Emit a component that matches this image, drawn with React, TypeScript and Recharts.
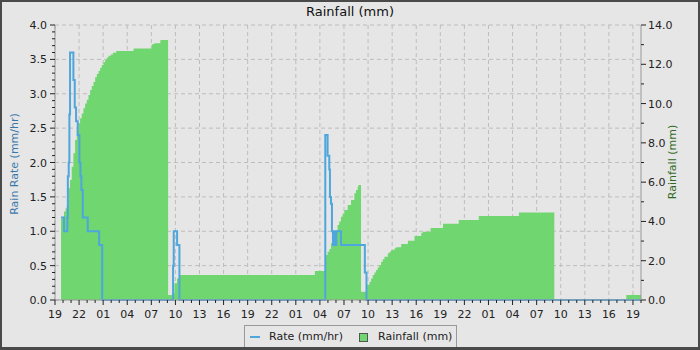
import { ComposedChart, Area, Line, XAxis, YAxis, CartesianGrid } from "recharts"

// hours counted from 19:00 on the first day
const rainHours = [
  0.75, 0.92, 1.125, 1.33, 1.46, 1.67, 1.875, 2.08, 2.29, 2.5, 2.71, 2.92, 3.125, 3.33, 3.54, 3.75, 3.96,
  4.17, 4.375, 4.58, 4.79, 5.0, 5.21, 5.42, 5.625, 5.83, 6.04, 6.25, 6.46, 6.67, 6.96, 7.21, 7.625, 9.79,
  12.04, 12.375, 13.125, 14.09, 14.58, 14.875, 15.2, 15.5, 32.375, 33.7, 33.96, 34.17, 34.375, 34.58,
  34.79, 35.0, 35.2, 35.4, 35.625, 35.83, 36.04, 36.46, 36.875, 37.29, 37.5, 37.71, 37.79, 38.125, 38.83,
  39.17, 39.375, 39.58, 39.79, 40.0, 40.2, 40.4, 40.625, 40.83, 41.04, 41.46, 41.67, 41.875, 42.29, 42.5,
  43.125, 43.96, 44.79, 45.625, 45.83, 46.79, 48.33, 50.29, 52.79, 57.79, 62.2, 71.17, 73,
]
const rainTotals = [
  4.15, 4.24, 4.5, 4.67, 4.79, 5.69, 6.11, 6.79, 7.47, 8.15, 8.66, 9.0, 9.25, 9.5, 9.76, 10.0, 10.2,
  10.44, 10.69, 10.9, 11.1, 11.34, 11.5, 11.66, 11.83, 11.97, 12.1, 12.22, 12.34, 12.44, 12.5, 12.59, 12.68, 12.81,
  13.02, 13.07, 13.24, 0.25, 0.34, 0.85, 1.1, 1.27, 1.48, 2.29, 2.46, 2.6, 2.89, 3.1,
  3.31, 3.55, 3.82, 4.0, 4.24, 4.4, 4.58, 4.84, 5.09, 5.43, 5.6, 5.77, 5.86, 0.42, 0.76,
  0.93, 1.1, 1.27, 1.4, 1.53, 1.65, 1.78, 1.95, 2.07, 2.2, 2.38, 2.46, 2.55, 2.63, 2.68,
  2.85, 3.02, 3.26, 3.43, 3.48, 3.66, 3.88, 4.07, 4.28, 4.45, 0, 0.25, 0.25,
]

const rateHours = [
  0.75, 1.125, 1.54, 1.6, 1.71, 1.79, 1.875, 2.29, 2.46, 2.625, 2.83, 3.04, 3.17, 3.29, 3.46, 4.08, 5.5, 5.875,
  14.71, 14.79, 15.21, 15.5,
  33.67, 33.96, 34.17, 34.25, 34.375, 34.5, 34.625, 34.69, 34.75, 34.81, 34.875, 34.94, 35.0, 35.06, 35.625, 38.6, 38.8,
  73,
]
const rateValues = [
  1.2, 1.0, 1.2, 1.8, 2.0, 2.7, 3.6, 3.2, 2.8, 2.6, 2.4, 2.0, 1.8, 1.6, 1.2, 1.0, 0.8, 0,
  0.5, 1.0, 0.8, 0,
  2.4, 2.1, 1.9, 1.5, 1.4, 1.0, 0.8, 1.0, 0.8, 1.0, 0.8, 1.0, 0.8, 1.0, 0.8, 0.4, 0,
  0,
]

const startHour = 19
const rateTicks = [0, 0.5, 1, 1.5, 2, 2.5, 3, 3.5, 4]
const rainTicks = [0, 2, 4, 6, 8, 10, 12, 14]
const hourGrid = [0, 3, 6, 9, 12, 15, 18, 21, 24, 27, 30, 33, 36, 39, 42, 45, 48, 51, 54, 57, 60, 63, 66, 69, 72]

// minor tick positions
const hourTicks = Array.from({ length: 74 }, (_, i) => i)
const rateMinor = Array.from({ length: 41 }, (_, i) => i / 10)
const rainMinor = Array.from({ length: 15 }, (_, i) => i)

const rainData = rainHours.map((h, i) => ({ h, rain: rainTotals[i] }))
const rateData = rateHours.map((h, i) => ({ h, rate: rateValues[i] }))

const BLUE = "#4ea6dc"
const GREEN = "#70d670"
const BG = "#e6e6e6"

const XTick = ({ x, y, payload }: any) => {
  const h = payload.value
  const major = h % 3 === 0
  const label = String((startHour + h) % 24).padStart(2, "0")
  return (
    <g>
      <line x1={x} y1={y} x2={x} y2={y + (major ? 5 : 3)} stroke="#222" />
      {major && (
        <text x={x} y={y + 18} textAnchor="middle" fontSize={11} fill="#222">
          {label}
        </text>
      )}
    </g>
  )
}

const LeftTick = ({ x, y, payload }: any) => {
  const v = Math.round(payload.value * 10)
  const major = v % 5 === 0
  return (
    <g>
      <line x1={x} y1={y} x2={x - (major ? 5 : 3)} y2={y} stroke="#222" />
      {major && (
        <text x={x - 8} y={y + 4} textAnchor="end" fontSize={11} fill="#222">
          {(v / 10).toFixed(1)}
        </text>
      )}
    </g>
  )
}

const RightTick = ({ x, y, payload }: any) => {
  const v = payload.value
  const major = rainTicks.includes(v)
  return (
    <g>
      <line x1={x} y1={y} x2={x + (major ? 5 : 3)} y2={y} stroke="#222" />
      {major && (
        <text x={x + 7} y={y + 4} textAnchor="start" fontSize={11} fill="#222">
          {v.toFixed(1)}
        </text>
      )}
    </g>
  )
}

export default function App() {
  return (
    <div
      style={{
        position: "absolute",
        left: 0,
        top: 0,
        width: 700,
        height: 350,
        background: BG,
        fontFamily: "'DejaVu Sans', sans-serif",
        overflow: "hidden",
      }}
    >
      <ComposedChart width={700} height={350} margin={{ top: 25, right: 0, bottom: 30, left: 0 }}>
        <CartesianGrid
          xAxisId="x"
          yAxisId="left"
          stroke="#bdbdbd"
          strokeDasharray="4 3"
          horizontalValues={rateTicks}
          verticalValues={hourGrid}
        />
        <XAxis
          xAxisId="x"
          type="number"
          dataKey="h"
          domain={[0, 73]}
          ticks={hourTicks}
          interval={0}
          tick={<XTick />}
          tickLine={false}
          tickSize={0}
          tickMargin={0}
          height={20}
          stroke="#999"
          allowDuplicatedCategory={false}
        />
        <YAxis
          yAxisId="left"
          domain={[0, 4]}
          ticks={rateMinor}
          interval={0}
          tick={<LeftTick />}
          tickLine={false}
          tickSize={0}
          tickMargin={0}
          width={55}
          stroke="#999"
        />
        <YAxis
          yAxisId="right"
          orientation="right"
          domain={[0, 14]}
          ticks={rainMinor}
          interval={0}
          tick={<RightTick />}
          tickLine={false}
          tickSize={0}
          tickMargin={0}
          width={59}
          stroke="#999"
        />
        <Area
          xAxisId="x"
          yAxisId="right"
          data={rainData}
          dataKey="rain"
          type="stepAfter"
          fill={GREEN}
          fillOpacity={1}
          stroke="none"
          isAnimationActive={false}
        />
        <Line
          xAxisId="x"
          yAxisId="left"
          data={rateData}
          dataKey="rate"
          type="stepAfter"
          stroke={BLUE}
          strokeWidth={2}
          dot={false}
          isAnimationActive={false}
        />
      </ComposedChart>
      <svg width={700} height={350} style={{ position: "absolute", left: 0, top: 0, pointerEvents: "none" }}>
        <text x={350} y={16} textAnchor="middle" fontSize={13} fill="#111">
          Rainfall (mm)
        </text>
        <text x={18} y={164} textAnchor="middle" fontSize={11} fill="#3b78aa" transform="rotate(-90 18 164)">
          Rain Rate (mm/hr)
        </text>
        <text x={676} y={162} textAnchor="middle" fontSize={11} fill="#2f6b22" transform="rotate(-90 676 162)">
          Rainfall (mm)
        </text>
      </svg>
      <div
        style={{
          position: "absolute",
          left: 244,
          top: 325,
          width: 213,
          height: 24,
          boxSizing: "border-box",
          border: "1px solid #999",
          fontSize: 11,
          color: "#222",
          whiteSpace: "nowrap",
        }}
      >
        <span style={{ position: "absolute", left: 5, top: 10, width: 10, height: 2, background: BLUE }} />
        <span style={{ position: "absolute", left: 24, top: 4 }}>Rate (mm/hr)</span>
        <span
          style={{
            position: "absolute",
            left: 114,
            top: 7,
            width: 7,
            height: 7,
            background: GREEN,
            border: "1px solid #555",
          }}
        />
        <span style={{ position: "absolute", left: 133, top: 4 }}>Rainfall (mm)</span>
      </div>
      <div
        style={{
          position: "absolute",
          left: 0,
          top: 0,
          width: 700,
          height: 350,
          boxSizing: "border-box",
          borderStyle: "solid",
          borderColor: "#4a4a4a",
          borderWidth: "2px 2px 3px 2px",
          pointerEvents: "none",
        }}
      />
    </div>
  )
}
